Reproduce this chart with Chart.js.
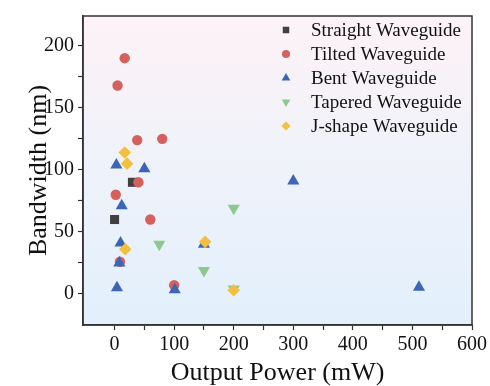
<!DOCTYPE html>
<html>
<head>
<meta charset="utf-8">
<script src="https://cdn.jsdelivr.net/npm/chart.js@4"></script>
<style>
  html, body { margin: 0; padding: 0; background: #fff; }
  #wrap { width: 490px; height: 386px; }
</style>
</head>
<body>
<div id="wrap"><canvas id="scatterChart" width="490" height="386"></canvas></div>
<script>
// series labels
const seriesNames = [
  "Straight Waveguide",
  "Tilted Waveguide",
  "Bent Waveguide",
  "Tapered Waveguide",
  "J-shape Waveguide",
];

// [output power (mW), bandwidth (nm)]
const straightPts = [[30, 90], [0, 60]];
const tiltedPts = [
  [17, 190], [5, 168], [38, 124], [80, 125], [40, 90],
  [2, 80], [60, 60], [9, 26], [100, 7],
];
const bentPts = [
  [3, 104], [50, 101], [12, 71], [10, 41], [8, 25],
  [4, 5], [101, 3.5], [150, 40], [300, 91], [511, 5.5],
];
const taperedPts = [[200, 69], [75, 40], [150, 19], [200, 4]];
const jshapePts = [[17, 114], [21, 105], [18, 36], [152, 42], [200, 3]];

// tick values
const xTickValues = [0, 50, 100, 150, 200, 250, 300, 350, 400, 450, 500, 550, 600];
const yTickValues = [0, 25, 50, 75, 100, 125, 150, 175, 200];

const colors = ["#404040", "#d6605e", "#3b66b8", "#8cc98c", "#f2c03e"];
const styles = ["rect", "circle", "triangle", "triangle", "rectRot"];
const rotations = [0, 0, 0, 180, 0];
const radii = [6.4, 5.2, 7, 7, 6.3];
const legendRadii = [4.6, 4, 5, 5, 4.6];

const allPts = [straightPts, tiltedPts, bentPts, taperedPts, jshapePts];

const serif = "'Liberation Serif', 'Times New Roman', serif";

var bgPlugin = {
  id: "bg",
  beforeDraw(chart) {
    const a = chart.chartArea;
    const ctx = chart.ctx;
    const g = ctx.createLinearGradient(0, a.top, 0, a.bottom);
    g.addColorStop(0, "#fdf2f7");
    g.addColorStop(0.5, "#eff2fa");
    g.addColorStop(1, "#e2f0fc");
    ctx.save();
    ctx.fillStyle = g;
    ctx.fillRect(a.left, a.top, a.right - a.left, a.bottom - a.top);
    ctx.restore();
  },
  afterDraw(chart) {
    const a = chart.chartArea;
    const ctx = chart.ctx;
    ctx.save();
    ctx.strokeStyle = "#333";
    ctx.lineWidth = 1.5;
    ctx.strokeRect(a.left, a.top, a.right - a.left, a.bottom - a.top);

    // legend inside the plot
    ctx.font = "19px " + serif;
    ctx.textBaseline = "middle";
    ctx.textAlign = "left";
    seriesNames.forEach((name, i) => {
      const y = 30 + i * 24;
      ctx.fillStyle = colors[i];
      ctx.strokeStyle = colors[i];
      Chart.helpers.drawPoint(ctx, {
        pointStyle: styles[i],
        rotation: rotations[i],
        radius: legendRadii[i],
        borderWidth: 0,
      }, 286, y);
      ctx.fillStyle = "#111";
      ctx.fillText(name, 311, y + 1);
    });
    ctx.restore();
  },
};

var ctx = document.getElementById("scatterChart").getContext("2d");

var datasets = allPts.map((pts, i) => ({
  label: seriesNames[i],
  data: pts.map((p) => ({ x: p[0], y: p[1] })),
  pointStyle: styles[i],
  rotation: rotations[i],
  pointRadius: radii[i],
  backgroundColor: colors[i],
  borderColor: colors[i],
  borderWidth: 0,
  order: 4 - i, // later series drawn on top
}));

var scatterChart = new Chart(ctx, {
  type: "scatter",
  data: { datasets: datasets },
  options: {
    responsive: false,
    animation: false,
    layout: { padding: { top: 14, right: 18, left: 22, bottom: 0 } },
    plugins: {
      legend: { display: false },
      tooltip: { enabled: false },
    },
    scales: {
      x: {
        min: -53,
        max: 600,
        afterBuildTicks: (scale) => {
          scale.ticks = xTickValues.map((v) => ({ value: v }));
        },
        afterFit: (scale) => { scale.height = 61; },
        grid: { drawOnChartArea: false, tickLength: 5, color: "#333", tickWidth: 1.2 },
        border: { color: "#333", width: 1.5 },
        ticks: {
          autoSkip: false,
          maxRotation: 0,
          padding: 3,
          color: "#111",
          font: { family: serif, size: 20 },
          callback: (v) => (v % 100 === 0 ? v : ""),
        },
        title: {
          display: true,
          text: "Output Power (mW)",
          color: "#111",
          font: { family: serif, size: 26, lineHeight: 1 },
          padding: { top: 0, bottom: 0 },
        },
      },
      y: {
        min: -25,
        max: 224,
        afterBuildTicks: (scale) => {
          scale.ticks = yTickValues.map((v) => ({ value: v }));
        },
        afterFit: (scale) => { scale.width = 61; },
        grid: { drawOnChartArea: false, tickLength: 5, color: "#333", tickWidth: 1.2 },
        border: { color: "#333", width: 1.5 },
        ticks: {
          autoSkip: false,
          padding: 4,
          color: "#111",
          font: { family: serif, size: 20 },
          callback: (v) => (v % 50 === 0 ? v : ""),
        },
        title: {
          display: true,
          text: "Bandwidth (nm)",
          color: "#111",
          font: { family: serif, size: 26, lineHeight: 1 },
          padding: { top: 4, bottom: 0 },
        },
      },
    },
  },
  plugins: [bgPlugin],
});
</script>
</body>
</html>
